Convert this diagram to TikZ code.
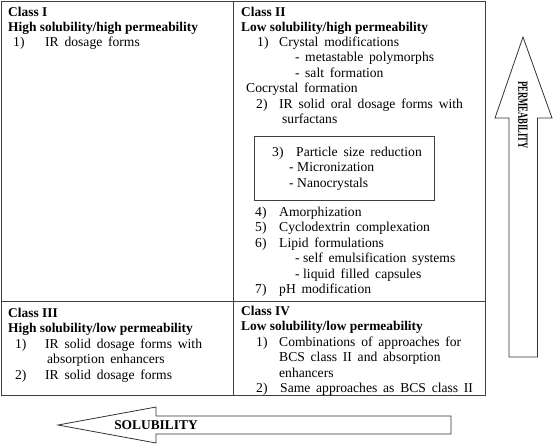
\documentclass[tikz,border=0pt]{standalone}
\usepackage{fontspec}
\setmainfont{Liberation Serif}
\newfontfamily\widefont[WordSpace=1.7]{Liberation Serif}
\begin{document}
\begin{tikzpicture}[x=1pt,y=-1pt,
  txt/.style={anchor=base west,inner sep=0pt,font=\widefont\fontsize{13.6}{15}\selectfont},
  bld/.style={anchor=base west,inner sep=0pt,font=\fontsize{13.4}{15}\selectfont\bfseries},
  frame/.style={draw=black!75,line width=0.9pt},
  bigarrow/.style={draw=black!80,line width=0.8pt,fill=white}]
\useasboundingbox (0,0) rectangle (553,445);
% grid
\draw[frame] (1.5,1.5) rectangle (485,395);
\draw[frame] (233,1.5) -- (233,395);
\draw[frame] (1.5,301) -- (485,301);
\draw[frame] (254,136) rectangle (434,200);
% Class I
\node[bld] (c1a) at (8,16) {Class I};
\node[bld] (c1b) at (8,31) {High solubility/high permeability};
\node[txt] (c1n) at (13,46) {1)};
\node[txt] (c1c) at (45,46) {IR dosage forms};
% Class II
\node[bld] (c2a) at (241,16) {Class II};
\node[bld] (c2b) at (241,31) {Low solubility/high permeability};
\node[txt] (c2n1) at (257,46) {1)};
\node[txt] (c2c) at (279,46) {Crystal modifications};
\node[txt] (c2d1) at (295,61) {-};
\node[txt] (c2d) at (305,61) {metastable polymorphs};
\node[txt] (c2e1) at (295,77) {-};
\node[txt] (c2e) at (305,77) {salt formation};
\node[txt] (c2f) at (246,92) {Cocrystal formation};
\node[txt] (c2n2) at (256,108) {2)};
\node[txt] (c2g) at (279,108) {IR solid oral dosage forms with};
\node[txt] (c2h) at (282,123) {surfactans};
\node[txt] (c2n3) at (272,156) {3)};
\node[txt] (c2i) at (296,156) {Particle size reduction};
\node[txt] (c2j1) at (289,171) {-};
\node[txt] (c2j) at (297,171) {Micronization};
\node[txt] (c2k1) at (289,187) {-};
\node[txt] (c2k) at (297,187) {Nanocrystals};
\node[txt] (c2n4) at (255,216) {4)};
\node[txt] (c2l) at (279,216) {Amorphization};
\node[txt] (c2n5) at (255,231) {5)};
\node[txt] (c2m) at (279,231) {Cyclodextrin complexation};
\node[txt] (c2n6) at (255,247) {6)};
\node[txt] (c2o) at (279,247) {Lipid formulations};
\node[txt] (c2p1) at (295,262) {-};
\node[txt] (c2p) at (303,262) {self emulsification systems};
\node[txt] (c2q1) at (295,278) {-};
\node[txt] (c2q) at (303,278) {liquid filled capsules};
\node[txt] (c2n7) at (255,293) {7)};
\node[txt] (c2r) at (279,293) {pH modification};
% Class III
\node[bld] (c3a) at (8,317) {Class III};
\node[bld] (c3b) at (8,332) {High solubility/low permeability};
\node[txt] (c3n1) at (15,348) {1)};
\node[txt] (c3c) at (45,348) {IR solid dosage forms with};
\node[txt] (c3d) at (47,363) {absorption enhancers};
\node[txt] (c3n2) at (15,379) {2)};
\node[txt] (c3e) at (45,379) {IR solid dosage forms};
% Class IV
\node[bld] (c4a) at (241,315) {Class IV};
\node[bld] (c4b) at (241,330) {Low solubility/low permeability};
\node[txt] (c4n1) at (256,346) {1)};
\node[txt] (c4c) at (279,346) {Combinations of approaches for};
\node[txt] (c4d) at (279,361) {BCS class II and absorption};
\node[txt] (c4e) at (279,377) {enhancers};
\node[txt] (c4n2) at (256,392) {2)};
\node[txt] (c4f) at (280,392) {Same approaches as BCS class II};
% Permeability arrow
\draw[bigarrow] (523,37) -- (552,118) -- (537.5,118) -- (537.5,357) -- (509,357) -- (509,118) -- (495,118) -- cycle;
\node[rotate=-90,inner sep=0pt,font=\fontsize{14}{15}\selectfont\bfseries] (perm) at (523,115) {\scalebox{0.62}[1]{PERMEABILITY}};
% Solubility arrow
\draw[bigarrow] (58,425) -- (156,407) -- (156,416) -- (451,416) -- (451,434) -- (156,434) -- (156,443) -- cycle;
\node[inner sep=0pt,font=\fontsize{13.4}{15}\selectfont\bfseries] (sol) at (156,425) {SOLUBILITY};
\end{tikzpicture}
\end{document}
